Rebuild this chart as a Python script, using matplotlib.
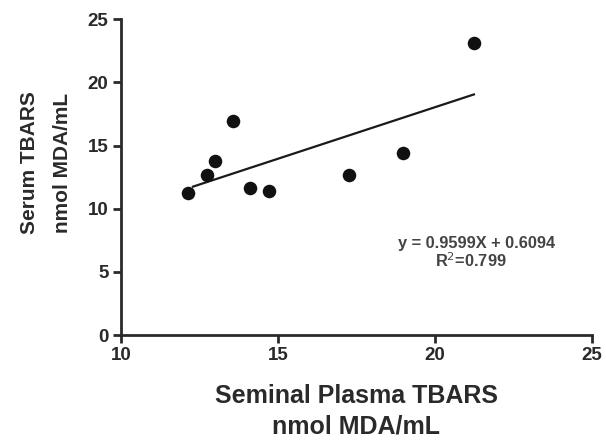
import numpy as np
import matplotlib
matplotlib.use("Agg")
import matplotlib.pyplot as plt

plt.rcParams['font.family'] = ['Liberation Sans', 'DejaVu Sans']

seminal = [12.14, 12.73, 13.00, 13.56, 14.12, 14.71, 17.27, 18.98, 21.24]
serum = [11.27, 12.69, 13.75, 16.92, 11.66, 11.38, 12.69, 14.41, 23.10]
x_ticks = [10, 15, 20, 25]
y_ticks = [0, 5, 10, 15, 20, 25]
xlabel_lines = ["Seminal Plasma TBARS", "nmol MDA/mL"]
ylabel_lines = ["Serum TBARS", "nmol MDA/mL"]
eq_text = "y = 0.9599X + 0.6094"
r2_text = "R$^2$=0.799"

W, H = 606, 441
fig = plt.figure(figsize=(W / 100, H / 100), dpi=100)
ax = fig.add_axes([121 / W, 1 - 335 / H, (592 - 121) / W, (335 - 19.3) / H])


def fx(px):
    return px / W


def fy(py):
    return 1 - py / H


dark = '#2a2a2a'
ax.scatter(seminal, serum, s=95, color='#111111', zorder=3, linewidths=0)
coef = np.polyfit(seminal, serum, 1)
xs = np.array([min(seminal) + 0.15, max(seminal)])
ax.plot(xs, np.polyval(coef, xs), color='#1a1a1a', lw=1.6, zorder=2)

ax.set_xlim(10, 25)
ax.set_ylim(0, 25)
ax.set_xticks(x_ticks)
ax.set_yticks(y_ticks)
for s in ['top', 'right']:
    ax.spines[s].set_visible(False)
for s in ['left', 'bottom']:
    ax.spines[s].set_linewidth(2)
    ax.spines[s].set_color(dark)
ax.tick_params(axis='both', direction='out', length=6, width=2, color=dark,
               labelsize=13.5, labelcolor=dark, pad=3)
for lab in ax.get_xticklabels() + ax.get_yticklabels():
    lab.set_fontweight('bold')

# x label (two lines, baselines)
for line, base in zip(xlabel_lines, [403.3, 434.0]):
    fig.text(fx(356.5), fy(base), line, fontsize=18, fontweight='bold',
             color=dark, ha='center', va='baseline')
# y label (rotated, two lines)
for line, base in zip(ylabel_lines, [35.0, 68.0]):
    fig.text(fx(base), fy(163), line, fontsize=15, fontweight='bold',
             color=dark, ha='center', va='baseline', rotation=90,
             rotation_mode='anchor')

fig.text(fx(476.7), fy(248.3), eq_text, fontsize=11.8, fontweight='bold',
         color='#444444', ha='center', va='baseline')
fig.text(fx(471), fy(267.3), r2_text, fontsize=11.8, fontweight='bold',
         color='#444444', ha='center', va='baseline')

fig.savefig("out.png", dpi=100)
